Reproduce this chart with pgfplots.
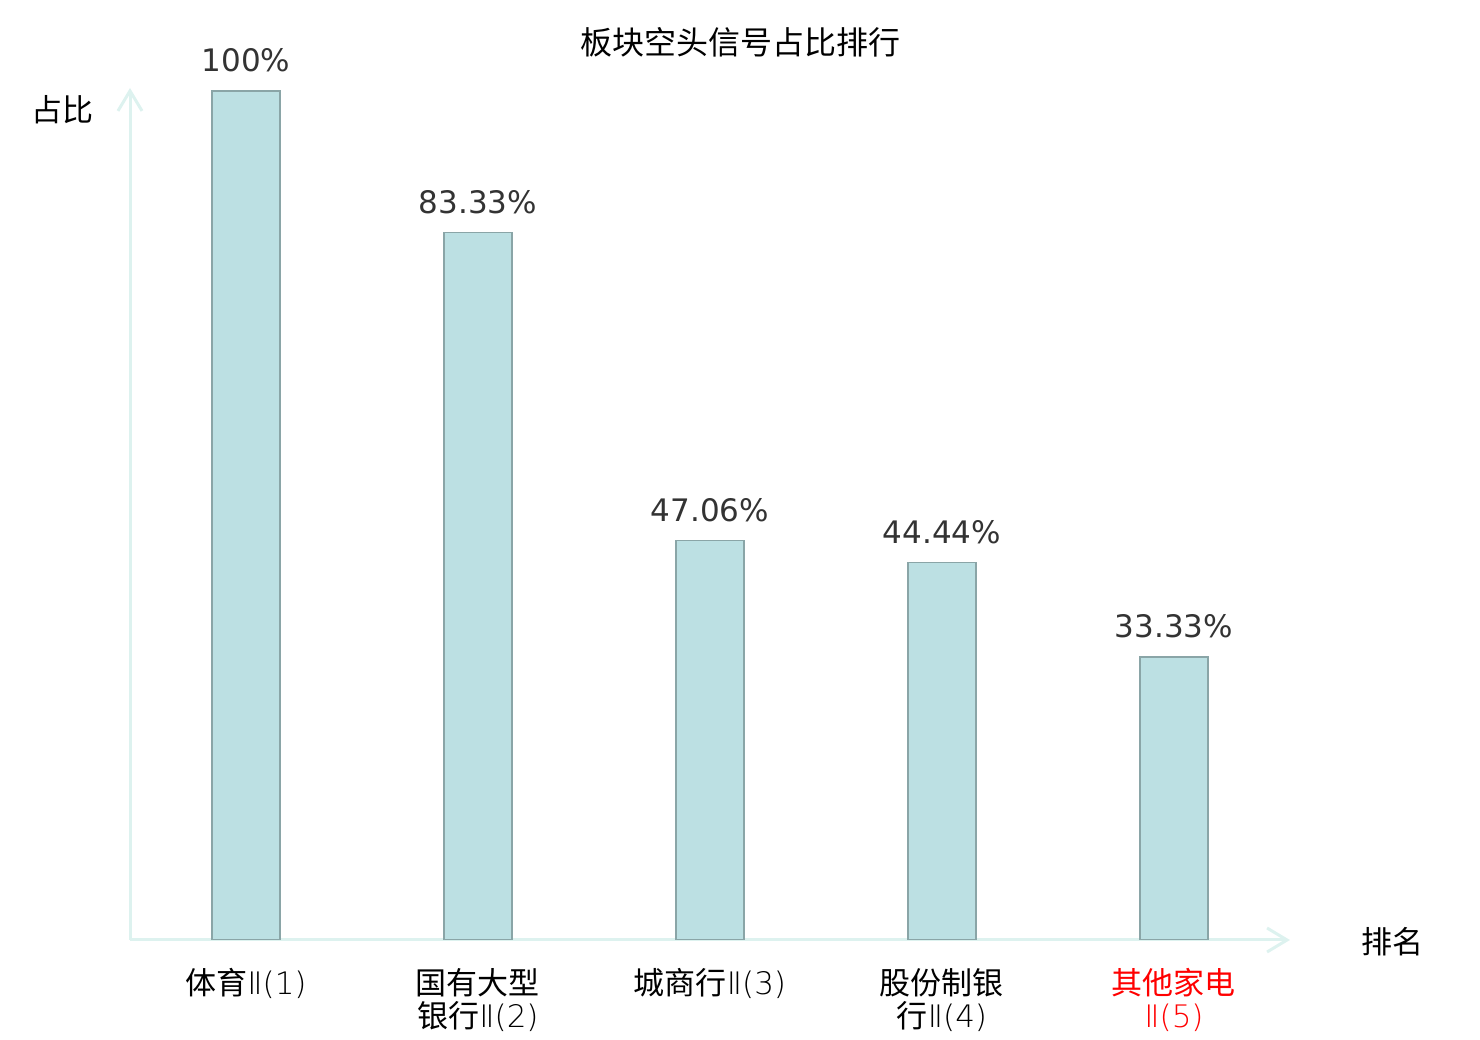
\documentclass[border=0pt]{standalone}
\usepackage{fontspec}
\setmainfont{Noto Sans CJK SC}
\newfontfamily\dejavu{DejaVu Sans}
\newfontfamily\dvlight{DejaVu Sans ExtraLight}
\usepackage{pgfplots}
\pgfplotsset{compat=1.18}
\usetikzlibrary{arrows.meta}
\definecolor{barfill}{HTML}{BCE0E3}
\definecolor{bardraw}{HTML}{8AA5A7}
\definecolor{axcol}{HTML}{DDF2EF}
\definecolor{valcol}{HTML}{333333}
\newcommand{\rn}[1]{{\dvlight Ⅱ(#1)}}
\begin{document}
\begin{tikzpicture}
\path[use as bounding box] (0,0) rectangle (740pt,520pt);
\begin{axis}[
  at={(65pt,50pt)}, anchor=south west,
  scale only axis, width=580pt, height=426pt,
  xmin=-0.5, xmax=4.5, ymin=0, ymax=100.35,
  axis lines=left,
  axis line style={color=axcol, line width=1.5pt, -{Straight Barb[length=10pt,width=12pt,line width=1.5pt]}},
  ytick=\empty,
  xtick={0,1,2,3,4},
  major tick length=0pt,
  xticklabels={{体育\rn{1}},{国有大型\\银行\rn{2}},{城商行\rn{3}},{股份制银\\行\rn{4}},{\textcolor{red}{其他家电}\\\textcolor{red}{\rn{5}}}},
  xticklabel style={align=center, anchor=north, inner sep=0pt, yshift=-14pt, font=\fontsize{15.5pt}{16.5pt}\selectfont},
  ybar, bar width=34pt, bar shift=0pt,
  nodes near coords,
  point meta=explicit symbolic,
  every node near coord/.append style={anchor=south, inner sep=0pt, yshift=9pt, font=\dejavu\fontsize{15.5pt}{16pt}\selectfont, color=valcol},
]
\addplot[fill=barfill, draw=bardraw, line width=0.75pt] coordinates {
  (0,100) [100\%]
  (1,83.33) [83.33\%]
  (2,47.06) [47.06\%]
  (3,44.44) [44.44\%]
  (4,33.33) [33.33\%]
};
\end{axis}
\node[font=\fontsize{16pt}{18pt}\selectfont] at (370pt,499pt) {板块空头信号占比排行};
\node[font=\fontsize{15.5pt}{18pt}\selectfont] at (31.5pt,465pt) {占比};
\node[font=\fontsize{15.5pt}{18pt}\selectfont] at (696pt,49pt) {排名};
\end{tikzpicture}
\end{document}
